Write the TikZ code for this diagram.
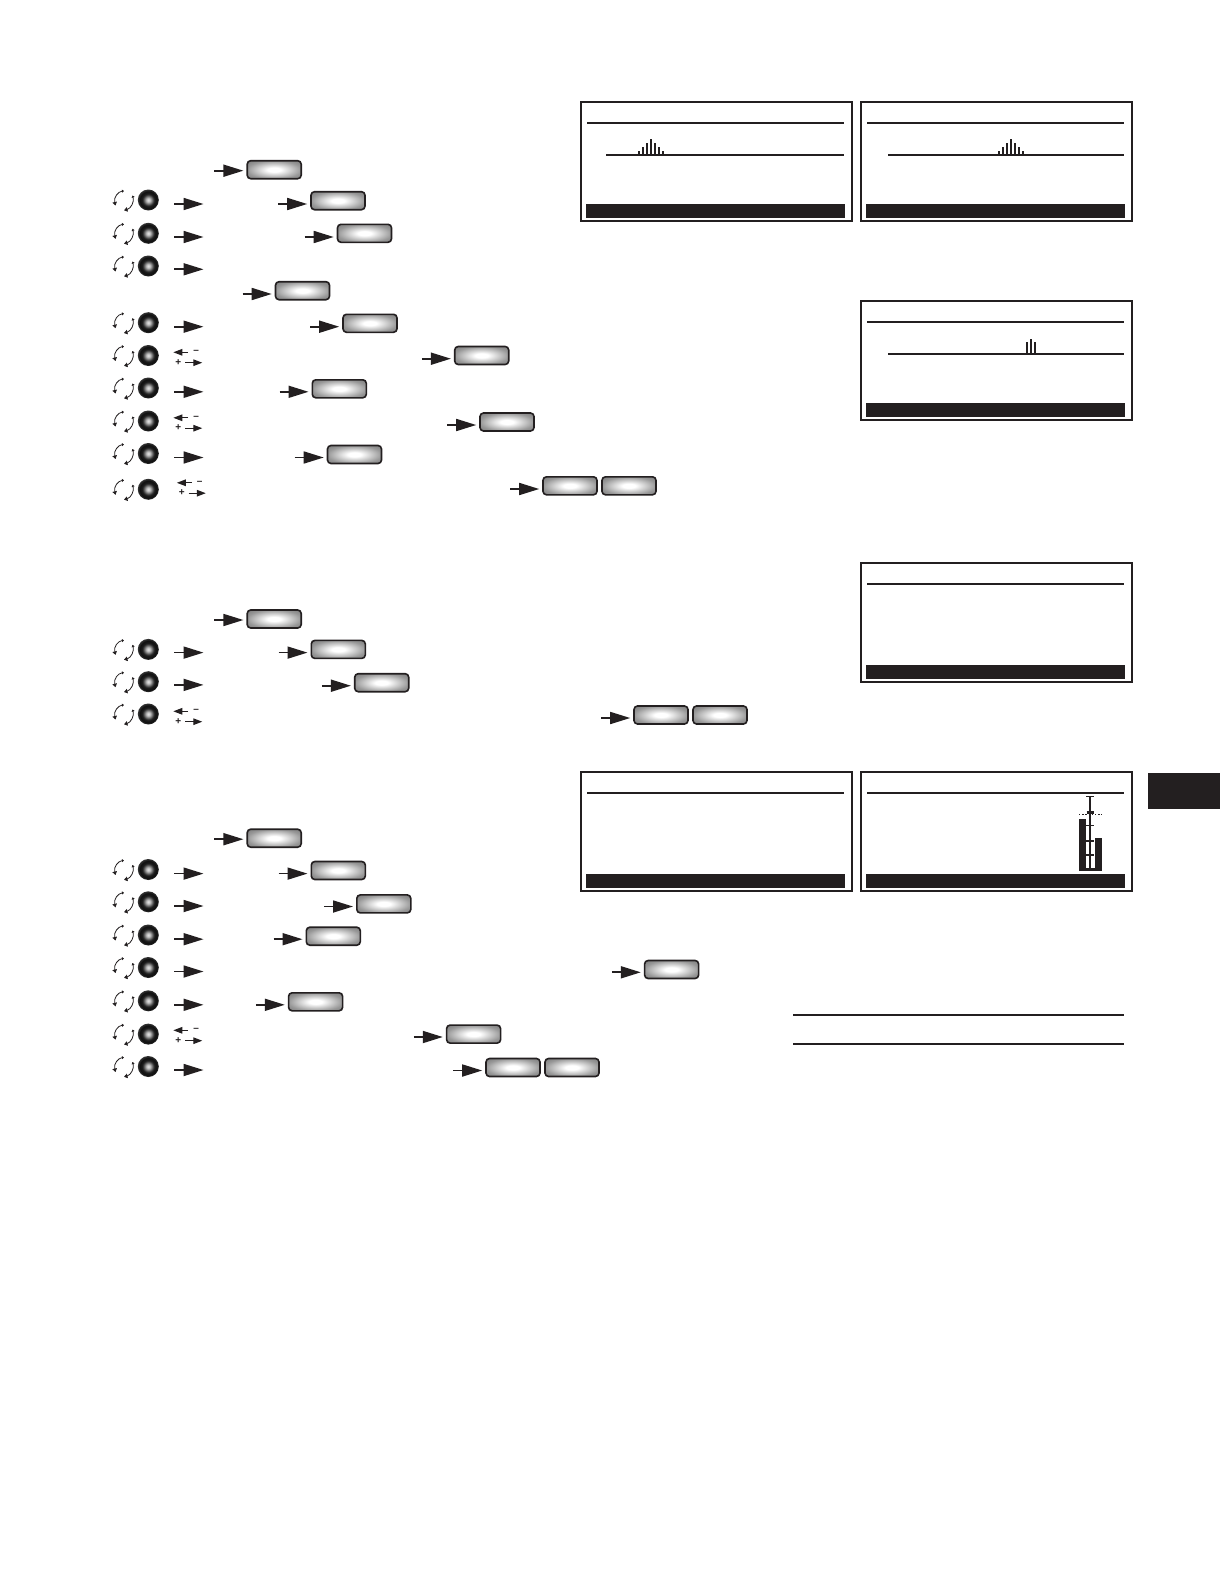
\documentclass[tikz,border=0pt]{standalone}
\usepackage{fontspec}
\setmainfont{Liberation Sans}
\usetikzlibrary{arrows.meta,shadings,calc}
\definecolor{ink}{HTML}{231F20}
\pgfdeclareradialshading{btnshade}{\pgfpoint{0bp}{0bp}}{color(0bp)=(white);color(6bp)=(white);color(25bp)=(black!40);color(35bp)=(black!52);color(50bp)=(black!52)}
\pgfdeclareradialshading{knobshade}{\pgfpoint{0bp}{0bp}}{color(0bp)=(black!12);color(4bp)=(black!22);color(9bp)=(black!55);color(14bp)=(black!88);color(20bp)=(black!94);color(25bp)=(black!80);color(50bp)=(black!80)}
\tikzset{
  btnbox/.style={draw=ink,line width=1.6pt,rounded corners=3.5pt,minimum width=54pt,minimum height=18pt,inner sep=0pt,shading=btnshade},
  knobdisc/.style={circle,minimum size=21pt,inner sep=0pt,draw=none,shading=knobshade},
  conn/.style={draw=ink,line width=1.7pt,-{Triangle[length=20pt,width=12pt]}},
  mini/.style={draw=ink,line width=1.2pt,-{Triangle[length=9pt,width=6.5pt]}},
  ring/.style={draw=ink,line width=.8pt,{Triangle[length=2pt,width=3pt]}-{Triangle[length=3.5pt,width=4.5pt]}},
  sign/.style={inner sep=0pt,font=\bfseries\fontsize{10pt}{10pt}\selectfont,text=ink},
  frame/.style={draw=ink,line width=2pt,fill=white},
  rule/.style={draw=ink,line width=2pt},
  band/.style={fill=ink,draw=none},
  spike/.style={draw=ink,line width=2pt}
}
\newcommand\btn[3]{\node[btnbox] (#1) at (#2,#3) {};}
\newcommand\into[2]{\coordinate (#1s) at ($(#1.west)+(-32,0)$);\coordinate (#1t) at (#1s |- 0,#2);\coordinate (#1e) at ($(#1.west |- 0,#2)+(-3,0)$);\draw[conn] (#1t) -- (#1e);}
\newcommand\knob[2]{\node[knobdisc] (#1) at (148.3,#2) {};
 \coordinate (#1c) at (124,#2+.5);
 \draw[ring] ($(#1c)+(0,-9.5)$) .. controls ($(#1c)+(-6,-9)$) and ($(#1c)+(-10.5,-3)$) .. ($(#1c)+(-8.5,5)$);
 \draw[ring] ($(#1c)+(8.5,-5)$) .. controls ($(#1c)+(10.5,1)$) and ($(#1c)+(7,8)$) .. ($(#1c)+(0,9.8)$);}
\newcommand\fwd[2]{\coordinate (#1a) at (174,#2);\coordinate (#1b) at (203.5,#2);\draw[conn] (#1a) -- (#1b);}
\newcommand\plusminus[3]{%
 \coordinate (#1ua) at (188+#3,#2-5.2);\coordinate (#1ub) at (173.3+#3,#2-5.2);
 \draw[mini] (#1ua) -- (#1ub);
 \coordinate (#1la) at (185+#3,#2+5.2);\coordinate (#1lb) at (202.3+#3,#2+5.2);
 \draw[mini] (#1la) -- (#1lb);
 \node[sign] (#1m) at (196.2+#3,#2-5.4) {–};
 \node[sign] (#1q) at (178.3+#3,#2+5.0) {+};}
\newcommand\screen[3]{%
 \node[frame,minimum width=271pt,minimum height=119pt,inner sep=0pt,anchor=north west] (#1) at (#3,#2) {};
 \fill[band] (#3+5.8,#2+102.5) rectangle (#3+265,#2+117);
 \draw[rule] (#3+7,#2+22) -- (#3+264,#2+22);}
\begin{document}
\begin{tikzpicture}[x=1pt,y=-1pt]
\useasboundingbox (0,0) rectangle (1224,1584);
\fill[white] (0,0) rectangle (1224,1584);

% ---------- section 1
\btn{a0}{274.2}{169.7}\into{a0}{170.7}
\knob{ka1}{200}\fwd{fa1}{204}\btn{a1}{338}{200.7}\into{a1}{204}
\knob{ka2}{233.3}\fwd{fa2}{237}\btn{a2}{364.5}{233.3}\into{a2}{237}
\knob{ka3}{266}\fwd{fa3}{269.3}
\btn{a3}{302.5}{290.7}\into{a3}{294}
\knob{ka4}{322.7}\fwd{fa4}{326.7}\btn{a4}{370}{323.3}\into{a4}{326.7}
\knob{ka5}{355.5}\plusminus{da5}{357.5}{0}\btn{a5}{481.7}{355.5}\into{a5}{358.7}
\knob{ka6}{388}\fwd{fa6}{391.8}\btn{a6}{339.3}{388.8}\into{a6}{391.8}
\knob{ka7}{421}\plusminus{da7}{423}{0}\btn{a7}{507}{422}\into{a7}{425}
\knob{ka8}{453.5}\fwd{fa8}{457.5}\btn{a8}{354.5}{454.5}\into{a8}{457.5}
\knob{ka9}{489.3}\plusminus{da9}{488}{3.5}\btn{a9}{570}{485.8}\btn{a10}{629}{485.8}\into{a9}{489}

% ---------- section 2
\btn{b0}{274.2}{619}\into{b0}{620}
\knob{kb1}{649.4}\fwd{fb1}{652.6}\btn{b1}{338.3}{649.4}\into{b1}{652.6}
\knob{kb2}{681.7}\fwd{fb2}{684.9}\btn{b2}{381.7}{682.7}\into{b2}{685.7}
\knob{kb3}{714}\plusminus{db3}{716.5}{0}\btn{b3}{661}{715}\btn{b4}{720}{715}\into{b3}{718}

% ---------- section 3
\btn{c0}{274.2}{838.2}\into{c0}{839.2}
\knob{kc1}{869.5}\fwd{fc1}{873.6}\btn{c1}{338.3}{870.5}\into{c1}{873.6}
\knob{kc2}{901.8}\fwd{fc2}{906}\btn{c2}{383.8}{903.9}\into{c2}{906.5}
\knob{kc3}{935}\fwd{fc3}{939.2}\btn{c3}{333.3}{936.2}\into{c3}{939.2}
\knob{kc4}{967.5}\fwd{fc4}{971.5}\btn{c4}{671.6}{969.5}\into{c4}{972.3}
\knob{kc5}{1000.8}\fwd{fc5}{1004.8}\btn{c5}{315.6}{1001.8}\into{c5}{1004.8}
\knob{kc6}{1034.1}\plusminus{dc6}{1035.5}{0}\btn{c6}{473.6}{1034.1}\into{c6}{1037}
\knob{kc7}{1066.5}\fwd{fc7}{1070}\btn{c7}{513}{1067.5}\btn{c8}{572}{1067.5}\into{c7}{1070.5}

% ---------- screens
\screen{s1}{101}{580}
\draw[rule] (606,155) -- (844,155);
\foreach \x/\h in {639/4,643/8,647/12,651/16,655/12,659/8,663/4}{\draw[spike] (\x,155) -- (\x,155-\h);}
\screen{s2}{101}{860}
\draw[rule] (888,155) -- (1124,155);
\foreach \x/\h in {999/4,1003/8,1007/12,1011/16,1015/12,1019/8,1023/4}{\draw[spike] (\x,155) -- (\x,155-\h);}
\screen{s3}{300}{860}
\draw[rule] (888,353.5) -- (1124,353.5);
\foreach \x/\h in {1027/12,1031/15,1035/12}{\draw[spike] (\x,353.5) -- (\x,353.5-\h);}
\screen{s4}{562}{860}
\screen{s5}{771}{580}
\screen{s6}{771}{860}

% tuner bars in s6
\fill[ink] (1079,819.3) rectangle (1086,871);
\fill[ink] (1094.7,838.3) rectangle (1101.7,871);
\fill[ink] (1079,867.5) rectangle (1101.7,871);
\draw[draw=ink,line width=1.8pt] (1090,796.7) -- (1090,868);
\draw[draw=ink,line width=1.5pt] (1086,796.7) -- (1094,796.7);
\draw[draw=ink,line width=1.5pt] (1086,825.7) -- (1094,825.7);
\draw[draw=ink,line width=1.5pt] (1086,841) -- (1094,841);
\draw[draw=ink,line width=1.5pt] (1086,855) -- (1094,855);
\draw[draw=ink,line width=3pt] (1086.5,812.3) -- (1093.5,812.3);
\draw[draw=ink,line width=1pt,dash pattern=on 1.4pt off 1.8pt] (1079,814) -- (1102,814);

% free rules and tab
\draw[rule] (793,1015) -- (1124,1015);
\draw[rule] (793,1043.5) -- (1124,1043.5);
\fill[ink] (1148,772.7) rectangle (1220,809);
\end{tikzpicture}
\end{document}
